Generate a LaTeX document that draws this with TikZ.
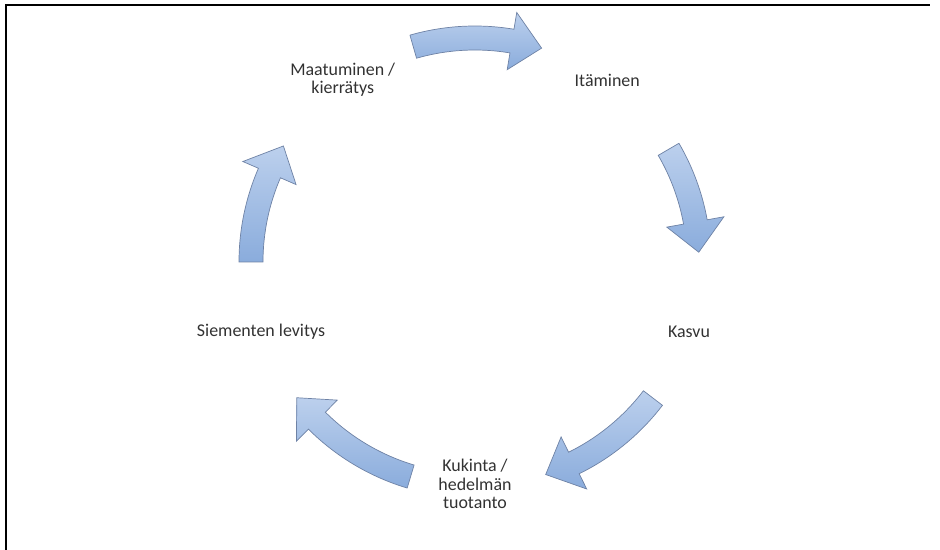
\documentclass[tikz,border=0pt]{standalone}
\usepackage{fontspec}
\setmainfont{Carlito}
\definecolor{arrowtop}{RGB}{188,208,237}
\definecolor{arrowbot}{RGB}{138,172,220}
\definecolor{arrowline}{RGB}{110,130,165}
\definecolor{textgray}{RGB}{50,50,50}

\tikzset{
	stage/.style={align=center, text=textgray, font=\fontsize{10.2}{10.4}\selectfont, inner sep=1pt},
	cyclearrow/.style={top color=arrowtop, bottom color=arrowbot, draw=arrowline, line width=0.4pt},
}

\begin{document}
\begin{tikzpicture}[x=0.02cm, y=0.02cm]
		\useasboundingbox (-475,-288) rectangle (465,262);
		% frame
		\draw[line width=0.9pt] (-469,-288) -- (-469,257) -- (455,257);

		\draw (126:225) node[stage] (maat) {Maatuminen /\\kierrätys};
		\draw (54:225) node[stage] (itam) {Itäminen};
		\draw (-18:225) node[stage] (kasvu) {Kasvu};
		\draw (-90:222) node[stage] (kuk) {Kukinta /\\hedelmän\\tuotanto};
		\draw (198:225) node[stage] (siem) {Siementen levitys};

		% curved block arrows between the stages (tail angle / tip angle)
		\foreach \s/\t in {106/72.7, 30.2/2.5, -37.4/-71.6, -106.7/-142.7, 180/148.8} {
			\pgfmathsetmacro\b{\t+7.8}
			\draw[cyclearrow] (\s:236) arc[start angle=\s, end angle=\b, radius=236]
			-- (\b:253) -- (\t:224) -- (\b:195) -- (\b:212)
			arc[start angle=\b, end angle=\s, radius=212] -- cycle;
		}
	\end{tikzpicture}
\end{document}
